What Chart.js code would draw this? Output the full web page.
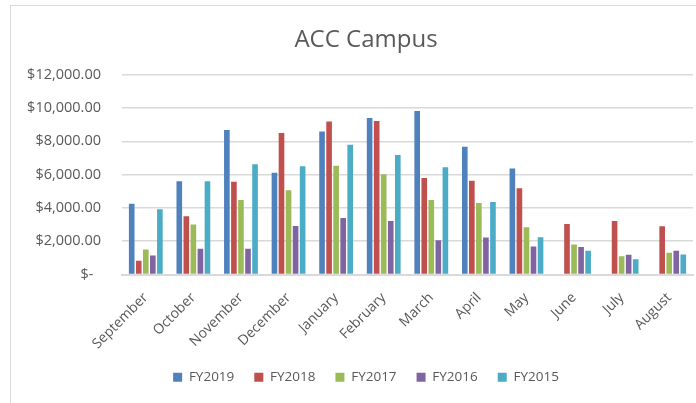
<!DOCTYPE html>
<html>
<head>
<meta charset="utf-8">
<script src="https://cdn.jsdelivr.net/npm/chart.js@4"></script>
<style>
  body { margin: 0; background: #fff; overflow: hidden; }
  #frame { position: absolute; left: 10px; top: 5px; width: 712px; height: 420px; border: 1px solid #d9d9d9; }
  #wrap { position: absolute; left: 0; top: 0; width: 732px; height: 403px; }
</style>
</head>
<body>
<div id="frame"></div>
<div id="wrap"><canvas id="chart"></canvas></div>
<script>
// months of the fiscal year
const months = ['September', 'October', 'November', 'December', 'January', 'February',
  'March', 'April', 'May', 'June', 'July', 'August'];

// monthly amounts per fiscal year
const fy2019 = [4250, 5600, 8680, 6120, 8600, 9400, 9820, 7670, 6370, null, null, null];
const fy2018 = [820, 3500, 5570, 8510, 9200, 9220, 5800, 5630, 5180, 3040, 3220, 2900];
const fy2017 = [1500, 3000, 4470, 5060, 6530, 6020, 4470, 4290, 2840, 1800, 1100, 1310];
const fy2016 = [1140, 1550, 1550, 2920, 3390, 3220, 2060, 2220, 1690, 1650, 1180, 1430];
const fy2015 = [3920, 5610, 6630, 6510, 7800, 7180, 6450, 4350, 2240, 1430, 920, 1200];

const seriesNames = ['FY2019', 'FY2018', 'FY2017', 'FY2016', 'FY2015'];
const seriesColors = ['#4F81BD', '#C0504D', '#9BBB59', '#8064A2', '#4BACC6'];
const yTicks = [0, 2000, 4000, 6000, 8000, 10000, 12000];

const textColor = '#595959';
const fontFamily = '"Open Sans", sans-serif';

const datasets = [fy2019, fy2018, fy2017, fy2016, fy2015].map((values, i) => ({
  label: seriesNames[i],
  data: values,
  backgroundColor: seriesColors[i],
  borderWidth: 0,
  categoryPercentage: 0.74,
  barPercentage: 0.8
}));

const formatMoney = (v) => {
  if (v === 0) return '$-  ';
  return '$' + v.toLocaleString('en-US', { minimumFractionDigits: 2, maximumFractionDigits: 2 });
};

// title and legend are centred on the whole (wider) chart, not the plot
const centerBlocks = {
  id: 'centerBlocks',
  afterLayout(chart) {
    [chart.titleBlock, chart.legend].forEach(b => {
      if (!b) return;
      b.left = 0;
      b.right = chart.width;
    });
  }
};

// the original chart is wider than the crop, so the canvas runs past the right edge
new Chart(document.getElementById('chart'), {
  type: 'bar',
  data: { labels: months, datasets: datasets },
  plugins: [centerBlocks],
  options: {
    responsive: true,
    maintainAspectRatio: false,
    animation: false,
    layout: { padding: { left: 10, right: 39, top: 0, bottom: 9 } },
    plugins: {
      title: {
        display: true,
        text: 'ACC Campus',
        color: textColor,
        font: { family: fontFamily, size: 24, weight: 'normal' },
        padding: { top: 26, bottom: 20 }
      },
      legend: {
        position: 'bottom',
        labels: {
          color: textColor,
          font: { family: fontFamily, size: 13.5 },
          boxWidth: 9,
          boxHeight: 9,
          padding: 20
        }
      },
      tooltip: { enabled: false }
    },
    scales: {
      x: {
        grid: { display: false, drawTicks: false },
        border: { color: '#d9d9d9', width: 2 },
        ticks: {
          color: textColor,
          font: { family: fontFamily, size: 14 },
          minRotation: 45,
          maxRotation: 45,
          padding: 15
        },
        afterFit: (scale) => { scale.height = 76; }
      },
      y: {
        min: 0,
        max: 12000,
        afterBuildTicks: (scale) => { scale.ticks = yTicks.map(v => ({ value: v })); },
        grid: { color: '#d9d9d9', lineWidth: 1.5, drawTicks: false },
        border: { display: false },
        ticks: {
          color: textColor,
          font: { family: fontFamily, size: 14.5 },
          padding: 21,
          callback: formatMoney
        },
        afterFit: (scale) => { scale.width = 112; }
      }
    }
  }
});
</script>
</body>
</html>
